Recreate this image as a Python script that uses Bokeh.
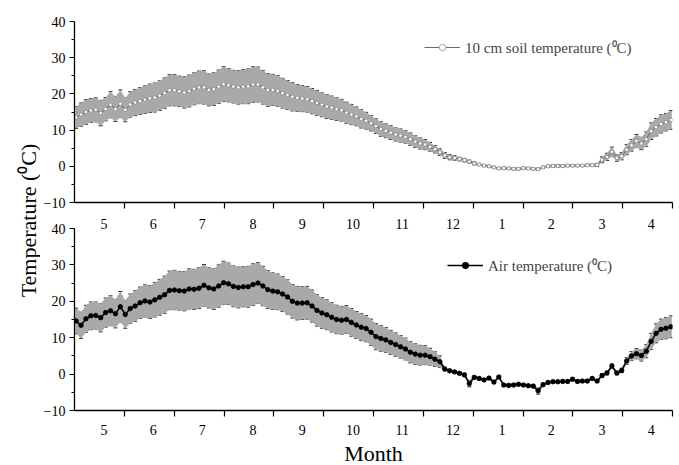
import math
from bokeh.plotting import figure
from bokeh.models import (ColumnDataSource, Range1d, FixedTicker, Whisker, TeeHead,
                          Legend, LegendItem, Label, LinearAxis)
from bokeh.layouts import row, column
from bokeh.embed import file_html
from bokeh.resources import INLINE

# ---------------- data ----------------
month_labels = ["5", "6", "7", "8", "9", "10", "11", "12", "1", "2", "3", "4"]
# sampled day of the year (starting 1 May), every third day
sample_day = list(range(1, 365, 3))

soil_mean = [
    13.5, 14.3, 15.0, 15.4, 15.6, 14.7, 15.8, 17.0, 15.8, 17.3,
    15.6, 17.1, 17.6, 18.0, 18.4, 18.8, 19.0, 19.5, 20.2, 21.0,
    21.0, 20.7, 20.4, 20.8, 21.4, 21.8, 21.8, 21.1, 21.3, 22.0,
    22.7, 22.4, 22.0, 21.8, 22.0, 22.1, 22.6, 22.6, 21.8, 21.1,
    21.1, 20.8, 20.2, 19.7, 19.2, 18.9, 18.7, 18.5, 18.0, 17.5,
    17.0, 16.5, 16.2, 15.8, 15.5, 14.8, 14.3, 13.8, 13.1, 12.6,
    11.9, 11.1, 10.3, 9.8, 9.3, 8.8, 8.5, 8.1, 7.5, 6.8,
    6.3, 6.0, 5.4, 4.7, 3.9, 3.0, 2.5, 2.3, 2.0, 1.7,
    1.3, 0.8, 0.5, 0.2, 0.0, -0.3, -0.6, -0.5, -0.6, -0.7,
    -0.7, -0.5, -0.6, -0.7, -0.8, -0.3, 0.0, 0.1, 0.1, 0.1,
    0.2, 0.2, 0.2, 0.2, 0.3, 0.3, 0.4, 1.8, 2.6, 4.0,
    2.3, 2.8, 4.6, 5.8, 7.0, 6.3, 7.5, 9.7, 10.8, 11.7,
    12.2, 12.8,
]
soil_sd = [
    3.0, 3.2, 3.4, 3.3, 3.3, 3.5, 3.2, 3.6, 3.4, 3.8,
    3.3, 3.5, 3.6, 3.7, 3.8, 3.9, 4.0, 4.1, 4.2, 4.3,
    4.3, 4.2, 4.3, 4.4, 4.4, 4.5, 4.6, 4.4, 4.5, 4.6,
    4.8, 4.6, 4.5, 4.6, 4.7, 4.8, 4.9, 4.8, 4.6, 4.5,
    4.3, 4.2, 4.1, 4.0, 3.9, 3.7, 3.6, 3.5, 3.5, 3.4,
    3.3, 3.3, 3.2, 3.1, 3.0, 2.9, 2.8, 2.6, 2.5, 2.3,
    2.1, 2.0, 2.0, 1.9, 1.9, 1.8, 1.8, 1.7, 1.7, 1.6,
    1.5, 1.4, 1.2, 1.0, 0.9, 0.8, 0.7, 0.6, 0.5, 0.5,
    0.4, 0.4, 0.3, 0.3, 0.3, 0.3, 0.3, 0.3, 0.3, 0.3,
    0.3, 0.3, 0.3, 0.3, 0.3, 0.3, 0.3, 0.3, 0.3, 0.3,
    0.3, 0.3, 0.3, 0.3, 0.3, 0.3, 0.4, 0.8, 1.0, 1.3,
    0.9, 1.0, 1.4, 1.6, 1.8, 1.7, 2.0, 2.3, 2.4, 2.5,
    2.4, 2.6,
]
air_mean = [
    14.6, 13.4, 15.2, 16.0, 16.1, 15.5, 16.9, 17.4, 16.6, 18.5,
    16.4, 18.0, 18.7, 19.6, 20.1, 19.8, 20.4, 21.1, 21.8, 23.0,
    23.1, 22.9, 22.8, 23.4, 23.3, 23.6, 24.4, 23.7, 23.4, 24.2,
    25.1, 24.8, 24.1, 23.8, 24.0, 24.0, 24.6, 25.0, 24.2, 23.2,
    22.8, 22.6, 22.0, 21.2, 20.0, 19.5, 19.5, 19.6, 18.7, 17.5,
    16.8, 16.3, 15.6, 15.0, 14.8, 15.0, 14.2, 13.5, 12.9, 12.5,
    11.5, 10.3, 9.8, 9.4, 8.7, 8.1, 7.5, 6.9, 6.0, 5.5,
    5.2, 5.2, 4.8, 4.1, 3.4, 1.4, 0.9, 0.6, 0.2, -0.2,
    -2.6, -0.9, -1.2, -1.6, -1.1, -2.2, -0.8, -3.0, -3.1, -3.0,
    -2.8, -3.0, -3.2, -3.3, -4.6, -2.9, -2.3, -2.1, -2.1, -2.0,
    -2.0, -1.4, -2.0, -1.9, -1.9, -1.2, -1.9, -0.4, 0.3, 2.2,
    0.3, 1.0, 3.6, 5.0, 5.6, 5.1, 6.3, 9.0, 11.2, 12.3,
    12.6, 13.0,
]
air_sd = [
    3.5, 3.6, 3.7, 3.8, 3.7, 3.9, 4.0, 4.1, 3.9, 4.2,
    3.8, 4.0, 4.2, 4.3, 4.4, 4.5, 4.7, 4.9, 5.1, 5.3,
    5.4, 5.3, 5.4, 5.5, 5.5, 5.6, 5.7, 5.5, 5.6, 5.8,
    5.9, 5.7, 5.6, 5.6, 5.5, 5.6, 5.7, 5.6, 5.4, 5.2,
    5.0, 4.9, 4.8, 4.7, 4.6, 4.6, 4.5, 4.5, 4.4, 4.3,
    4.2, 4.1, 4.0, 3.9, 3.8, 3.8, 3.8, 3.7, 3.7, 3.6,
    3.6, 3.6, 3.5, 3.4, 3.3, 3.2, 3.1, 3.0, 2.9, 2.8,
    2.7, 2.6, 2.3, 2.0, 1.6, 0.5, 0.4, 0.4, 0.4, 0.4,
    0.9, 0.4, 0.4, 0.4, 0.4, 0.4, 0.4, 0.4, 0.4, 0.4,
    0.4, 0.4, 0.4, 0.4, 0.9, 0.4, 0.4, 0.4, 0.4, 0.4,
    0.4, 0.4, 0.4, 0.4, 0.4, 0.4, 0.4, 0.5, 0.5, 0.6,
    0.5, 0.6, 0.9, 1.2, 1.4, 1.5, 1.8, 2.2, 2.6, 2.8,
    2.9, 3.0,
]
y_major = [-10, 0, 10, 20, 30, 40]
y_minor = [-5, 5, 15, 25, 35]

# ---------------- layout helpers ----------------
FONT = "Liberation Serif"
MONTH_LEN = 365 / 12
boundaries = [MONTH_LEN * k for k in range(1, 13)]
label_pos = [round(MONTH_LEN * (k + 0.58)) for k in range(12)]
overrides = {pos: lab for pos, lab in zip(label_pos, month_labels)}


def make_src(mean, sd):
    return ColumnDataSource(dict(
        x=sample_day, m=mean,
        lo=[a - b for a, b in zip(mean, sd)],
        hi=[a + b for a, b in zip(mean, sd)],
    ))


def style_y(p):
    ax = p.yaxis[0]
    ax.ticker = FixedTicker(ticks=y_major, minor_ticks=y_minor)
    ax.major_tick_out = 5
    ax.major_tick_in = 0
    ax.minor_tick_out = 3
    ax.minor_tick_in = 0
    ax.major_label_standoff = 4
    ax.major_label_text_font = FONT
    ax.major_label_text_font_size = "14px"
    ax.major_label_text_color = "black"
    ax.axis_line_width = 1.3
    ax.major_tick_line_width = 1.2
    ax.minor_tick_line_width = 1.0


def make_fig(fh, top, bottom):
    p = figure(frame_width=598, frame_height=fh,
               x_range=Range1d(0, 365), y_range=Range1d(-10, 40),
               output_backend="svg", toolbar_location=None,
               min_border_left=32, min_border_right=9,
               min_border_top=top, min_border_bottom=bottom)
    p.outline_line_color = None
    p.xgrid.visible = False
    p.ygrid.visible = False
    style_y(p)
    return p


def draw_series(p, src, band_color, bar_color, line_color, m_fill, m_line, m_size, lw):
    p.varea(x="x", y1="lo", y2="hi", source=src, fill_color=band_color, fill_alpha=1.0)
    wh = Whisker(source=src, base="x", upper="hi", lower="lo", dimension="height",
                 line_color=bar_color, line_width=1,
                 upper_head=TeeHead(size=4, line_color="#2a2a2a", line_width=1),
                 lower_head=TeeHead(size=4, line_color="#2a2a2a", line_width=1))
    p.add_layout(wh)
    lr = p.line("x", "m", source=src, line_color=line_color, line_width=lw)
    sr = p.scatter("x", "m", source=src, marker="circle", size=m_size,
                   fill_color=m_fill, line_color=m_line, line_width=0.8)
    return lr, sr


# ---------------- top panel: soil ----------------
p1 = make_fig(181, 21, 9)
xa1 = p1.xaxis[0]
xa1.ticker = FixedTicker(ticks=[], minor_ticks=boundaries)
xa1.major_tick_out = 0
xa1.major_label_standoff = 0
xa1.minor_tick_out = 6
xa1.minor_tick_in = 0
xa1.minor_tick_line_width = 1.2
xa1.axis_line_width = 1.3

src1 = make_src(soil_mean, soil_sd)
l1, s1 = draw_series(p1, src1, "#a9a9a9", "#555555", "#6a6a6a", "white", "#8a8a8a", 3.5, 1)
leg1 = Legend(items=[LegendItem(label="10 cm soil temperature (\u2070C)", renderers=[l1, s1])],
              location=(350, 145), border_line_color=None, background_fill_alpha=0,
              padding=0, margin=0, glyph_width=36, glyph_height=16, spacing=0,
              label_text_font=FONT, label_text_font_size="15px", label_standoff=5)
p1.add_layout(leg1)

# ---------------- bottom panel: air ----------------
p2 = make_fig(182, 17, 55)
xa2 = p2.xaxis[0]
xa2.ticker = FixedTicker(ticks=label_pos, minor_ticks=boundaries)
xa2.major_label_overrides = overrides
xa2.major_tick_line_color = None
xa2.major_tick_out = 0
xa2.major_label_standoff = 8
xa2.minor_tick_out = 6
xa2.minor_tick_in = 0
xa2.minor_tick_line_width = 1.2
xa2.axis_line_width = 1.3
xa2.major_label_text_font = FONT
xa2.major_label_text_font_size = "14px"
xa2.major_label_text_color = "black"
xa2.axis_label = "Month"
xa2.axis_label_text_font = FONT
xa2.axis_label_text_font_size = "22px"
xa2.axis_label_text_font_style = "normal"
xa2.axis_label_text_color = "black"
xa2.axis_label_standoff = 3

# month labels of the upper panel, carried by an axis above the lower panel
top_lab = LinearAxis(ticker=FixedTicker(ticks=label_pos, minor_ticks=[]),
                     major_label_overrides=overrides)
top_lab.axis_line_color = None
top_lab.major_tick_line_color = None
top_lab.minor_tick_line_color = None
top_lab.major_tick_out = 0
top_lab.major_tick_in = 0
top_lab.major_label_standoff = 0
top_lab.major_label_text_font = FONT
top_lab.major_label_text_font_size = "14px"
top_lab.major_label_text_color = "black"
p2.add_layout(top_lab, "above")

src2 = make_src(air_mean, air_sd)
l2, s2 = draw_series(p2, src2, "#a9a9a9", "#555555", "black", "black", "black", 4.5, 1.5)
leg2 = Legend(items=[LegendItem(label="Air temperature (\u2070C)", renderers=[l2, s2])],
              location=(373, 135), border_line_color=None, background_fill_alpha=0,
              padding=0, margin=0, glyph_width=36, glyph_height=16, spacing=0,
              label_text_font=FONT, label_text_font_size="15px", label_standoff=5)
p2.add_layout(leg2)

# ---------------- shared y label ----------------
lf = figure(width=40, height=465, x_range=Range1d(0, 1), y_range=Range1d(0, 1),
            output_backend="svg", toolbar_location=None, min_border=0,
            x_axis_location=None, y_axis_location=None)
lf.outline_line_color = None
lf.xgrid.visible = False
lf.ygrid.visible = False
lf.add_layout(Label(x=28, y=245, x_units="screen", y_units="screen",
                    text="Temperature (\u2070C)", angle=math.pi / 2,
                    text_align="center", text_baseline="middle",
                    text_font=FONT, text_font_size="22px", text_color="black"))

layout = row(lf, column(p1, p2))
open("out.html", "w").write(file_html(layout, INLINE))
